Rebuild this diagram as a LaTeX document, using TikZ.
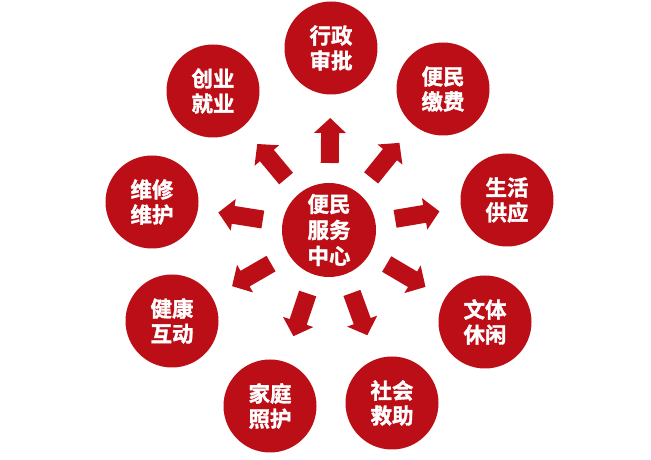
\documentclass[tikz,border=0pt]{standalone}
\usepackage{fontspec}
\newfontfamily\cjk{Noto Sans CJK SC Bold}[FakeBold=1.5]
\usetikzlibrary{calc}
\definecolor{cred}{RGB}{188,14,22}
\begin{document}
\begin{tikzpicture}[x=1pt,y=1pt,
  bubble/.style={circle,fill=cred,minimum size=93pt,inner sep=0pt,text=white,
    font=\cjk\fontsize{21.5}{25}\selectfont,align=center},
  hub/.style={bubble,minimum size=94pt,font=\cjk\fontsize{21.5}{26}\selectfont},
  blockarrow/.style={fill=cred,draw=none}]
\useasboundingbox (0,0) rectangle (651,460);
\fill[white] (0,0) rectangle (651,460);
\node[hub] (c) at (329,230) {便民\\服务\\中心};
\node[bubble] (o1) at (331,412) {行政\\审批};
\node[bubble] (o2) at (443,371) {便民\\缴费};
\node[bubble] (o3) at (507,260) {生活\\供应};
\node[bubble] (o4) at (485,138) {文体\\休闲};
\node[bubble] (o5) at (392,57) {社会\\救助};
\node[bubble] (o6) at (270,54) {家庭\\照护};
\node[bubble] (o7) at (172,139) {健康\\互动};
\node[bubble] (o8) at (152,258) {维修\\维护};
\node[bubble] (o9) at (213,369) {创业\\就业};
\foreach \o in {o1,o2,o3,o4,o5,o6,o7,o8,o9}{
  \fill[blockarrow] let \p1=($(\o.center)-(c.center)$), \n1={atan2(\y1,\x1)} in
    ($(c.center)+(\n1:67)+(\n1+90:9)$) --
    ($(c.center)+(\n1:97)+(\n1+90:9)$) --
    ($(c.center)+(\n1:97)+(\n1+90:16)$) --
    ($(c.center)+(\n1:112)$) --
    ($(c.center)+(\n1:97)+(\n1-90:16)$) --
    ($(c.center)+(\n1:97)+(\n1-90:9)$) --
    ($(c.center)+(\n1:67)+(\n1-90:9)$) -- cycle;
}
\end{tikzpicture}
\end{document}
